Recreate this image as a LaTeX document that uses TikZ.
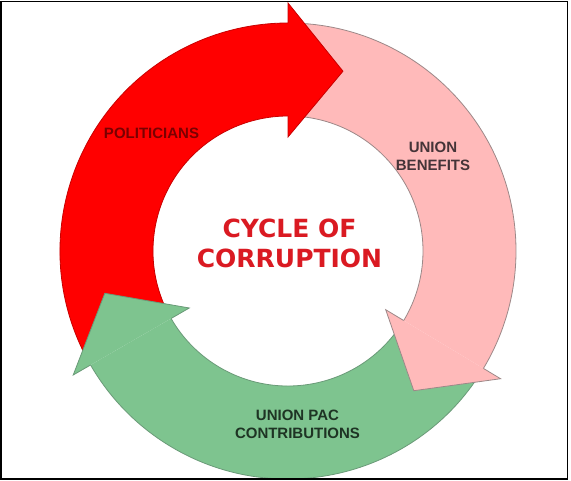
\documentclass[tikz,border=0pt]{standalone}
\usepackage{fontspec}
\setmainfont{Liberation Sans}
\newfontfamily\dejavu{DejaVu Sans}
\usetikzlibrary{calc}
\definecolor{redfill}{HTML}{FF0000}
\definecolor{redline}{HTML}{C80000}
\definecolor{pinkfill}{HTML}{FFBABA}
\definecolor{pinkline}{HTML}{9C8888}
\definecolor{greenfill}{HTML}{7EC48F}
\definecolor{greenline}{HTML}{6A9A78}
\definecolor{poltext}{HTML}{7A0000}
\definecolor{bentext}{HTML}{453438}
\definecolor{pactext}{HTML}{1E3424}
\definecolor{titletext}{HTML}{DA1A22}
\newcommand\ringshaft[4]{%
  \fill[#3] ($(C)+(#1:228pt)$) arc[start angle=#1,end angle=#2,radius=228pt]
     -- ($(C)+(#2:135pt)$) arc[start angle=#2,end angle=#1,radius=135pt] -- cycle;
  \draw[#4,ringline] ($(C)+(#1:228pt)$) arc[start angle=#1,end angle=#2,radius=228pt];
  \draw[#4,ringline] ($(C)+(#1:135pt)$) arc[start angle=#1,end angle=#2,radius=135pt];
}
\newcommand\ringhead[4]{%
  \fill[#3] ($(C)+(#1:228pt)$) -- ($(C)+(#1:248pt)$) -- ($(C)+(#2:188pt)$)
     -- ($(C)+(#1:114pt)$) -- ($(C)+(#1:135pt)$) -- cycle;
  \draw[#4,ringline,line join=miter] ($(C)+(#1:228pt)$) -- ($(C)+(#1:248pt)$)
     -- ($(C)+(#2:188pt)$) -- ($(C)+(#1:114pt)$) -- ($(C)+(#1:135pt)$);
}
\begin{document}
\begin{tikzpicture}[x=1pt,y=1pt,
  ringline/.style={line width=0.8pt},
  lbl/.style={font=\bfseries\fontsize{15}{18}\selectfont, align=center, inner sep=0pt},
  title/.style={font=\dejavu\bfseries\fontsize{25}{30}\selectfont, align=center, inner sep=0pt, text=titletext}]
\useasboundingbox (0,0) rectangle (571,481);
\fill[white] (0,0) rectangle (571,481);
\coordinate (C) at (288,230);
% shafts
\ringshaft{207}{90}{redfill}{redline}
\ringshaft{89}{-31}{pinkfill}{pinkline}
\ringshaft{-32}{-150}{greenfill}{greenline}
% heads
\ringhead{90}{73}{redfill}{redline}
\ringhead{-31}{-48}{pinkfill}{pinkline}
\ringhead{-150}{-167}{greenfill}{greenline}
% labels
\node[lbl, text=poltext] (pol) at (151.5,347.3) {POLITICIANS};
\node[lbl, text=bentext] (ben) at (433,324.5) {UNION\\BENEFITS};
\node[lbl, text=pactext] (pac) at (297.5,56.5) {UNION PAC\\CONTRIBUTIONS};
\node[title] (cyc) at (289.5,237.5) {CYCLE OF\\CORRUPTION};
% frame
\draw[black, line width=1.5pt] (0.75,479.5) rectangle (567.5,2);
\end{tikzpicture}
\end{document}
